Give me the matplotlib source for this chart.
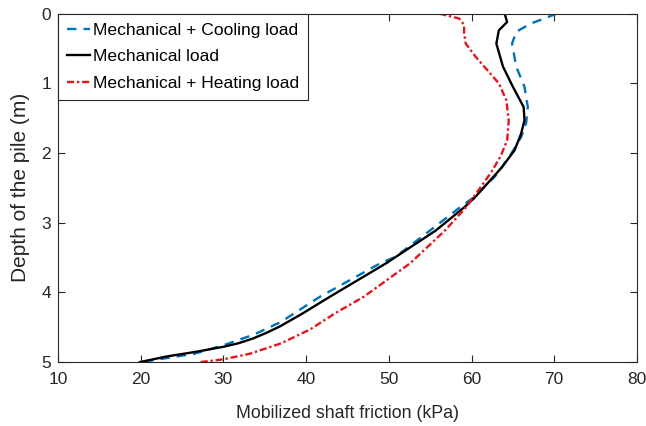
import matplotlib
matplotlib.use("Agg")
import matplotlib.pyplot as plt

plt.rcParams['font.family'] = ['Liberation Sans', 'DejaVu Sans']

# Mechanical + Cooling load
cool_depth = [0.0, 0.07, 0.14, 0.26, 0.43, 0.76, 1.05, 1.34, 1.57, 1.77, 2.05, 2.34,
              2.65, 2.77, 3.11, 3.49, 3.58, 4.06, 4.42, 4.6, 4.75, 4.88, 5.0]
cool_x = [70.3, 68.8, 67.2, 65.4, 64.9, 65.4, 66.4, 66.8, 66.6, 66.0, 64.6, 62.8,
          60.1, 58.7, 55.0, 50.8, 49.0, 41.7, 37.0, 33.8, 30.2, 26.5, 20.0]

# Mechanical load
mech_depth = [0.0, 0.12, 0.24, 0.43, 0.76, 1.05, 1.34, 1.53, 1.72, 1.96, 2.20, 2.44,
              2.65, 2.77, 3.11, 3.58, 4.06, 4.3, 4.49, 4.58, 4.66, 4.73, 4.78, 4.85,
              4.92, 5.0]
mech_x = [64.0, 64.3, 63.3, 63.0, 63.8, 65.0, 66.3, 66.4, 66.0, 65.2, 63.7, 61.9,
          60.3, 59.2, 55.7, 49.7, 42.9, 39.6, 36.8, 35.2, 33.6, 31.8, 30.0, 26.8,
          23.1, 19.9]

# Mechanical + Heating load
heat_depth = [0.0, 0.07, 0.16, 0.28, 0.43, 0.62, 0.81, 1.0, 1.24, 1.53, 1.82, 2.05,
              2.29, 2.49, 2.77, 3.11, 3.49, 3.58, 4.06, 4.3, 4.53, 4.73, 4.88, 4.96, 5.0]
heat_x = [56.1, 58.5, 59.1, 59.1, 59.3, 60.5, 61.9, 63.3, 64.2, 64.5, 64.3, 63.5,
          62.3, 61.1, 59.4, 56.8, 53.4, 52.6, 47.0, 43.5, 40.5, 37.0, 33.2, 30.0, 27.2]

labels = ["Mechanical + Cooling load", "Mechanical load", "Mechanical + Heating load"]
x_ticks = [10, 20, 30, 40, 50, 60, 70, 80]
y_ticks = [0, 1, 2, 3, 4, 5]

fig = plt.figure(figsize=(6.46, 4.26), dpi=100)
ax = fig.add_axes([0.0898, 0.150, 0.8962, 0.818])

ax.plot(cool_x, cool_depth, color='#0072BD', linestyle=(0, (4, 3)), linewidth=1.7, label=labels[0])
ax.plot(mech_x, mech_depth, color='black', linestyle='-', linewidth=1.7, label=labels[1])
ax.plot(heat_x, heat_depth, color='#E8141B', linestyle=(0, (3, 1.2, 1, 1.2)), linewidth=1.7, label=labels[2])

ax.set_xlim(10, 80)
ax.set_ylim(5, 0)
ax.set_xticks(x_ticks)
ax.set_yticks(y_ticks)
ax.tick_params(direction='in', length=5, width=0.8, top=True, right=True,
               labelsize=12.5, colors='#262626')
ax.tick_params(axis='x', pad=7)
ax.tick_params(axis='y', pad=5)
for s in ax.spines.values():
    s.set_linewidth(0.8)
    s.set_color('#262626')

ax.set_xlabel("Mobilized shaft friction (kPa)", fontsize=12.8, color='#262626', labelpad=13)
ax.set_ylabel("Depth of the pile (m)", fontsize=15, color='#262626', labelpad=8)

leg = ax.legend(loc='upper left', fontsize=12.6, frameon=True, fancybox=False,
                edgecolor='#262626', framealpha=1, borderaxespad=0.0,
                handlelength=1.3, handletextpad=0.2, borderpad=0.5, labelspacing=0.65)
leg.get_frame().set_linewidth(0.8)

fig.savefig("out.png", dpi=100)
